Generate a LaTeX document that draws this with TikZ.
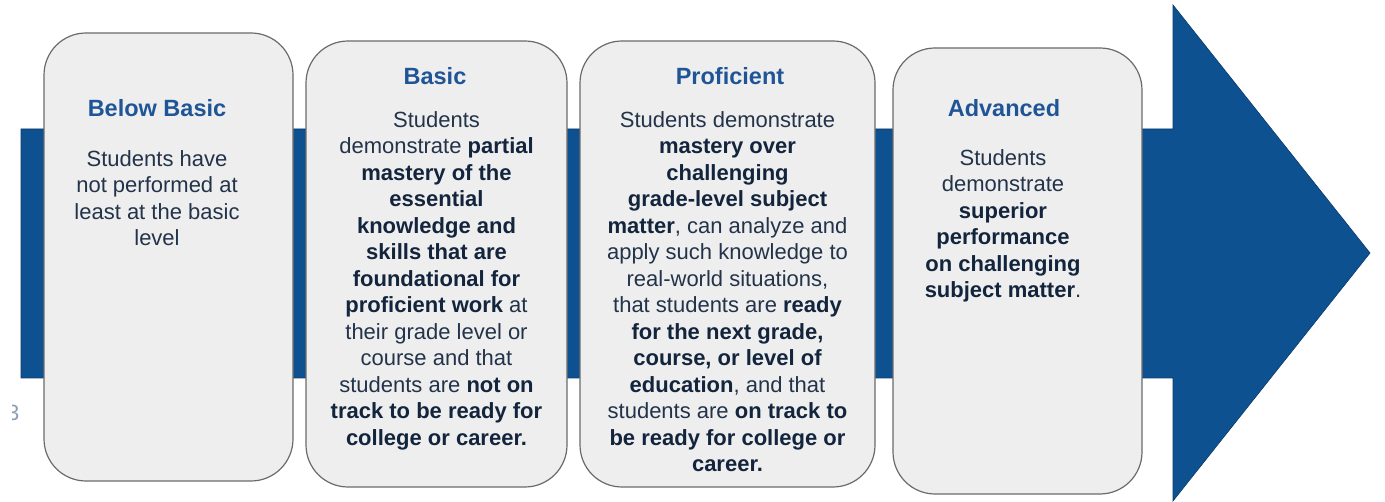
\documentclass[tikz,border=0pt]{standalone}
\usepackage{fontspec}
\setmainfont{Liberation Sans}
\definecolor{arrowblue}{HTML}{0E5191}
\definecolor{arrowedge}{HTML}{0A3A6A}
\definecolor{titleblue}{HTML}{1F5597}
\definecolor{bodyc}{HTML}{22334A}
\definecolor{boldc}{HTML}{13253D}
\definecolor{boxfill}{HTML}{EEEEEE}
\definecolor{boxedge}{HTML}{6A6A6A}
\definecolor{pagenum}{HTML}{8A9EB5}
\newcommand{\emb}[1]{\textbf{\color{boldc}#1}}
\tikzset{
  levelbox/.style={draw=boxedge, line width=1.2pt, fill=boxfill, rounded corners=42pt, inner sep=0pt},
  leveltitle/.style={anchor=base, inner sep=0pt, text=titleblue, font=\fontsize{23.5}{28}\selectfont\bfseries},
  levelbody/.style={anchor=north, inner sep=0pt, align=center, text=bodyc, font=\fontsize{22}{26.5}\selectfont}
}
\begin{document}
\begin{tikzpicture}[x=1pt,y=-1pt]
\useasboundingbox (0,0) rectangle (1385,502);
% big arrow
\draw[fill=arrowblue, draw=arrowedge, line width=0.6pt]
  (21,129) -- (1173,129) -- (1173,5) -- (1370,253) -- (1173,501) -- (1173,378) -- (21,378) -- cycle;
% page number fragment
\begin{scope}
\clip (12.5,390) rectangle (30,430);
\node[anchor=base east, inner sep=0pt, text=pagenum, font=\fontsize{22}{26}\selectfont] (pg) at (19.5,421) {3};
\end{scope}
% boxes
\path[levelbox] (44,33) rectangle (293,481) coordinate (b1);
\path[levelbox] (306,41) rectangle (567,487) coordinate (b2);
\path[levelbox] (580,41) rectangle (875,487) coordinate (b3);
\path[levelbox] (893,48) rectangle (1142,494) coordinate (b4);
% titles
\node[leveltitle] (t1) at (157,117) {Below Basic};
\node[leveltitle] (t2) at (435,85) {Basic};
\node[leveltitle] (t3) at (730,85) {Proficient};
\node[leveltitle] (t4) at (1004,117) {Advanced};
% bodies
\node[levelbody] (d1) at (157,149) {\rule{0pt}{17pt}Students have\\ not performed at\\ least at the basic\\ level};
\node[levelbody] (d2) at (436.5,110) {\rule{0pt}{17pt}Students\\ demonstrate \emb{partial}\\ \emb{mastery of the}\\ \emb{essential}\\ \emb{knowledge and}\\ \emb{skills that are}\\ \emb{foundational for}\\ \emb{proficient work} at\\ their grade level or\\ course and that\\ students are \emb{not on}\\ \emb{track to be ready for}\\ \emb{college or career.}};
\node[levelbody] (d3) at (727.5,110) {\rule{0pt}{17pt}Students demonstrate\\ \emb{mastery over}\\ \emb{challenging}\\ \emb{grade-level subject}\\ \emb{matter}, can analyze and\\ apply such knowledge to\\ real-world situations,\\ that students are \emb{ready}\\ \emb{for the next grade,}\\ \emb{course, or level of}\\ \emb{education}, and that\\ students are \emb{on track to}\\ \emb{be ready for college or}\\ \emb{career.}};
\node[levelbody] (d4) at (1003,148) {\rule{0pt}{17pt}Students\\ demonstrate\\ \emb{superior}\\ \emb{performance}\\ \emb{on challenging}\\ \emb{subject matter}.};
\end{tikzpicture}
\end{document}
